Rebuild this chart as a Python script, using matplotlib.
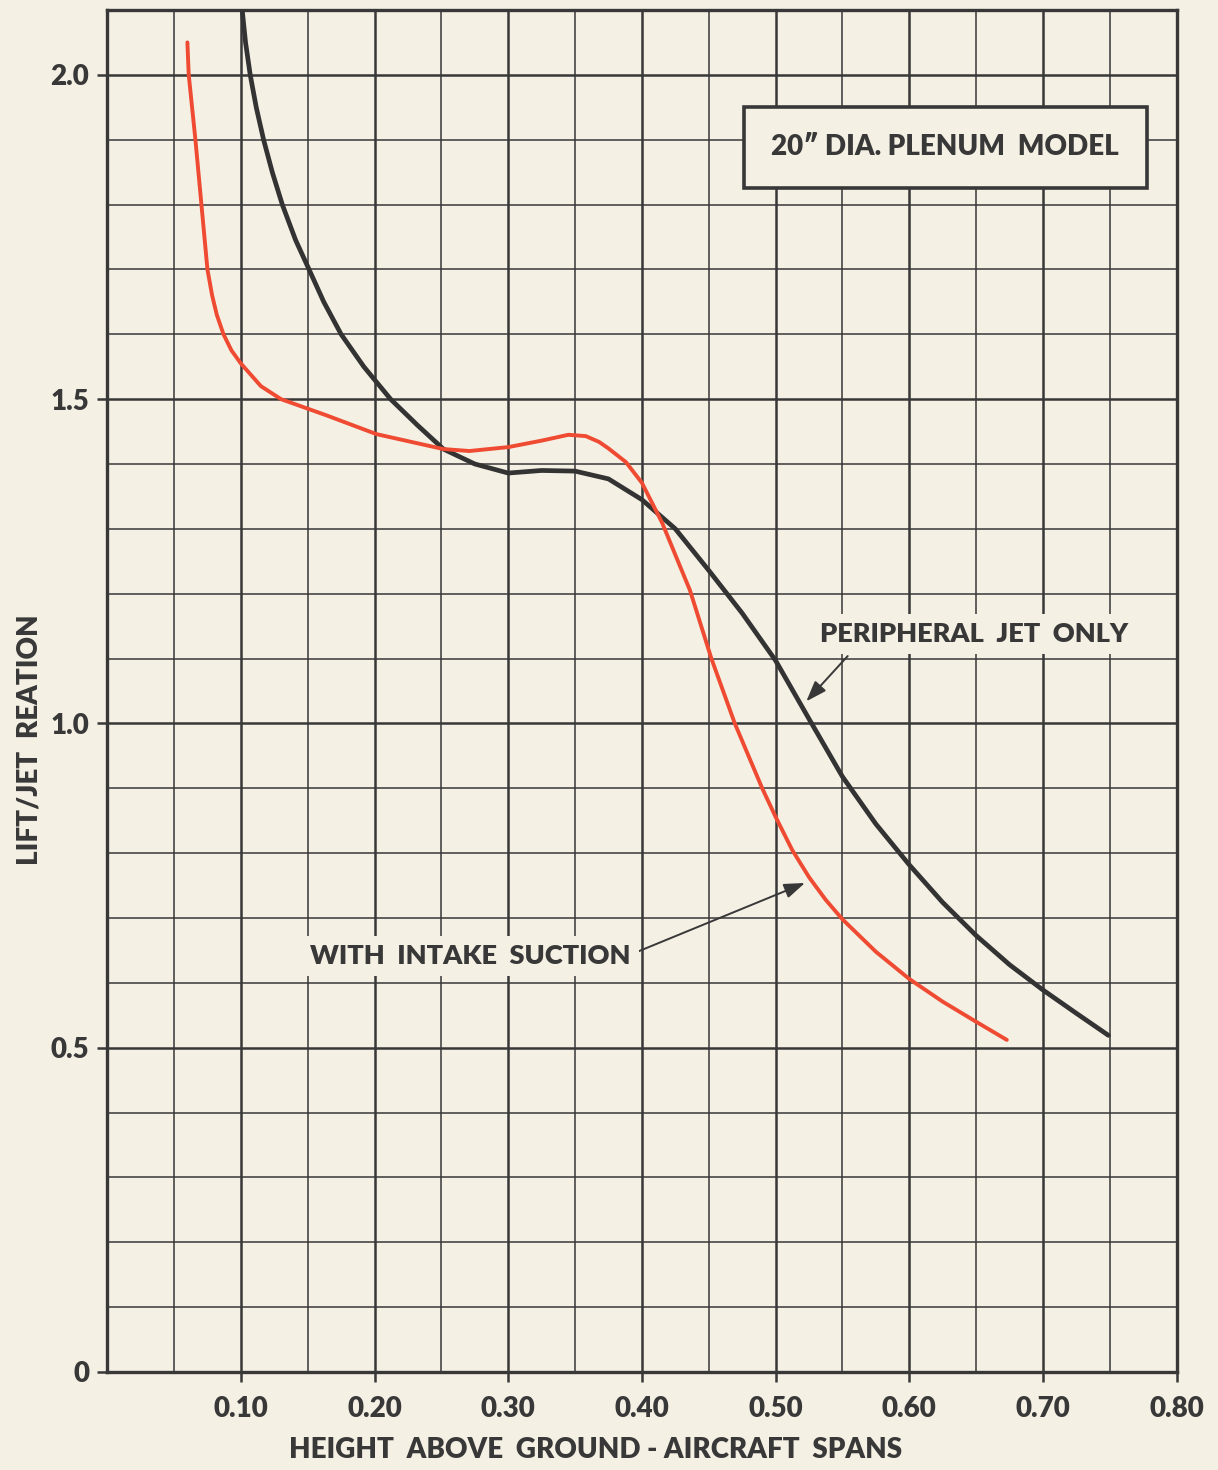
import numpy as np
import matplotlib
matplotlib.use('Agg')
import matplotlib.pyplot as plt
from matplotlib.ticker import MultipleLocator

# Lift / jet reaction vs. height above ground (aircraft spans)
jet_h = [0.101, 0.1035, 0.107, 0.1115, 0.117, 0.1235, 0.131, 0.141, 0.151, 0.162,
         0.175, 0.192, 0.212, 0.232, 0.2515, 0.275, 0.30, 0.325, 0.35, 0.375,
         0.40, 0.425, 0.45, 0.475, 0.50, 0.525, 0.55, 0.575, 0.60, 0.625,
         0.65, 0.675, 0.70, 0.725, 0.749]
jet_lift = [2.10, 2.05, 2.00, 1.95, 1.90, 1.85, 1.80, 1.745, 1.70, 1.65,
            1.60, 1.55, 1.50, 1.46, 1.423, 1.40, 1.386, 1.390, 1.389, 1.377,
            1.345, 1.30, 1.236, 1.17, 1.097, 1.007, 0.918, 0.845, 0.782, 0.724,
            0.673, 0.628, 0.589, 0.553, 0.519]

suction_h = [0.060, 0.061, 0.066, 0.0705, 0.075, 0.0785, 0.082, 0.087, 0.093, 0.10,
             0.115, 0.13, 0.164, 0.2015, 0.2515, 0.271, 0.30, 0.325, 0.345, 0.358,
             0.368, 0.375, 0.388, 0.40, 0.415, 0.436, 0.452, 0.4695, 0.49, 0.50,
             0.5124, 0.525, 0.5375, 0.55, 0.575, 0.60, 0.625, 0.65, 0.673]
suction_lift = [2.05, 2.00, 1.90, 1.80, 1.70, 1.66, 1.63, 1.60, 1.575, 1.555,
                1.52, 1.50, 1.475, 1.446, 1.423, 1.420, 1.426, 1.436, 1.445, 1.443,
                1.434, 1.424, 1.403, 1.371, 1.31, 1.205, 1.10, 1.00, 0.90, 0.856,
                0.805, 0.763, 0.728, 0.698, 0.648, 0.606, 0.571, 0.540, 0.512]

x_ticks = [0.10, 0.20, 0.30, 0.40, 0.50, 0.60, 0.70, 0.80]
x_tick_labels = ['0.10', '0.20', '0.30', '0.40', '0.50', '0.60', '0.70', '0.80']
y_ticks = [0, 0.5, 1.0, 1.5, 2.0]
y_tick_labels = ['0', '0.5', '1.0', '1.5', '2.0']

paper = '#f5f0e4'
ink = '#383838'
red = '#ef4a32'

plt.rcParams['font.family'] = ['Lato', 'DejaVu Sans']
plt.rcParams['font.weight'] = 'heavy'

fig = plt.figure(figsize=(12.18, 14.70), dpi=100, facecolor=paper)
ax = fig.add_axes([0.088, 0.0667, 0.878, 0.9265])
ax.set_facecolor(paper)

ax.set_xlim(0, 0.80)
ax.set_ylim(0, 2.1)

ax.set_xticks(x_ticks)
ax.set_xticklabels(x_tick_labels)
ax.set_yticks(y_ticks)
ax.set_yticklabels(y_tick_labels)
ax.xaxis.set_minor_locator(MultipleLocator(0.05))
ax.yaxis.set_minor_locator(MultipleLocator(0.1))

ax.grid(which='major', color=ink, lw=1.8)
ax.grid(which='minor', color=ink, lw=1.1)
ax.set_axisbelow(True)
ax.tick_params(which='minor', length=0)
ax.tick_params(which='major', length=7, width=1.8, color=ink,
               labelsize=20, labelcolor=ink)
ax.tick_params(axis='x', pad=10)
ax.tick_params(axis='y', pad=6)
for s in ax.spines.values():
    s.set_color(ink)
    s.set_linewidth(2.4)

ax.plot(jet_h, jet_lift, color='#333333', lw=3.4, solid_capstyle='round',
        solid_joinstyle='round', zorder=3)
ax.plot(suction_h, suction_lift, color=red, lw=2.8, solid_capstyle='round',
        solid_joinstyle='round', zorder=3)

# model caption box
ax.text(0.627, 1.888, '20\u2033 DIA. PLENUM  MODEL', ha='center', va='center',
        fontsize=20, color=ink, zorder=5,
        bbox=dict(boxstyle='square,pad=1.0', fc=paper, ec=ink, lw=2.6))

# curve labels with leader arrows
head = '-|>,head_length=0.7,head_width=0.25'
ax.annotate('PERIPHERAL  JET  ONLY', xy=(0.523, 1.034), xytext=(0.6485, 1.138),
            ha='center', va='center', fontsize=19.5, color=ink, zorder=5,
            bbox=dict(boxstyle='square,pad=0.3', fc=paper, ec='none'),
            arrowprops=dict(arrowstyle=head, color=ink, lw=1.4,
                            mutation_scale=18, shrinkA=2, shrinkB=0,
                            relpos=(0.12, 0.0)))
ax.annotate('WITH  INTAKE  SUCTION', xy=(0.522, 0.754), xytext=(0.2716, 0.6415),
            ha='center', va='center', fontsize=19.5, color=ink, zorder=5,
            bbox=dict(boxstyle='square,pad=0.3', fc=paper, ec='none'),
            arrowprops=dict(arrowstyle=head, color=ink, lw=1.4,
                            mutation_scale=18, shrinkA=0, shrinkB=0,
                            relpos=(0.99, 0.5)))

fig.text(596 / 1218, 1 - 1450 / 1470, 'HEIGHT  ABOVE  GROUND - AIRCRAFT  SPANS',
         ha='center', va='center', fontsize=20, color=ink)
fig.text(30 / 1218, 1 - 740 / 1470, 'LIFT/JET  REATION', rotation=90,
         ha='center', va='center', fontsize=20, color=ink)

fig.savefig('out.png', dpi=100, facecolor=paper)
